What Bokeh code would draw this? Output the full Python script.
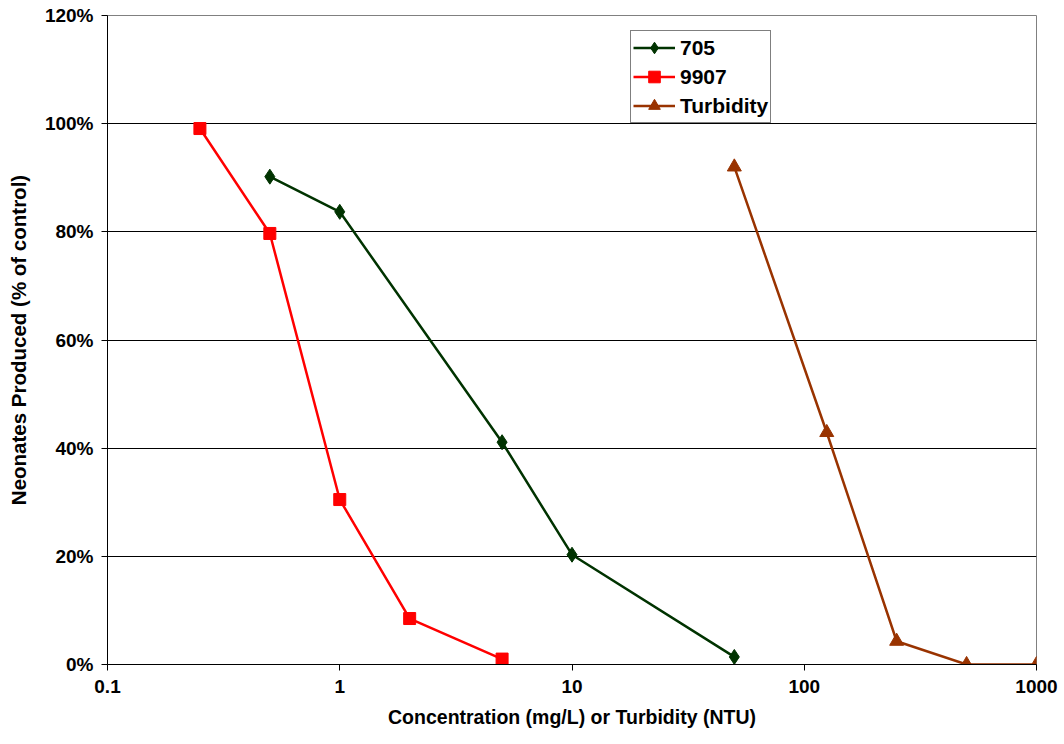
from bokeh.plotting import figure
from bokeh.models import FixedTicker, NumeralTickFormatter, CustomJSTickFormatter, Legend, LegendItem, Range1d
from bokeh.embed import file_html
from bokeh.resources import INLINE

x_705 = [0.5, 1, 5, 10, 50]
y_705 = [0.902, 0.837, 0.411, 0.203, 0.014]
x_9907 = [0.25, 0.5, 1, 2, 5]
y_9907 = [0.991, 0.797, 0.305, 0.085, 0.010]
x_turb = [50, 125, 250, 500, 1000]
y_turb = [0.920, 0.429, 0.043, 0.0, 0.0]

x_ticks = [0.1, 1, 10, 100, 1000]
y_ticks = [0, 0.2, 0.4, 0.6, 0.8, 1.0, 1.2]

FONT = "Liberation Sans"

p = figure(width=1064, height=744, x_axis_type="log", output_backend="svg",
           toolbar_location=None, x_range=Range1d(0.1, 1000), y_range=Range1d(0, 1.2),
           min_border_left=107, min_border_right=28, min_border_top=15, min_border_bottom=80)

p.outline_line_color = "#808080"
p.outline_line_width = 1

p.xaxis.ticker = FixedTicker(ticks=x_ticks)
p.xaxis.formatter = CustomJSTickFormatter(code="return tick.toString();")
p.yaxis.ticker = FixedTicker(ticks=y_ticks)
p.yaxis.formatter = NumeralTickFormatter(format="0%")

for ax in (p.xaxis, p.yaxis):
    ax.minor_tick_line_color = None
    ax.major_tick_out = 6
    ax.major_tick_in = 0
    ax.axis_line_color = "black"
    ax.major_tick_line_color = "black"
    ax.major_label_text_font = FONT
    ax.major_label_text_font_style = "bold"
    ax.major_label_text_font_size = "19px"
    ax.major_label_text_color = "black"
    ax.axis_label_text_font = FONT
    ax.axis_label_text_font_style = "bold"
    ax.axis_label_text_color = "black"

p.xaxis.axis_label_text_font_size = "19.5px"
p.yaxis.axis_label_text_font_size = "20.5px"
p.xaxis.axis_label = "Concentration (mg/L) or Turbidity (NTU)"
p.yaxis.axis_label = "Neonates Produced (% of control)"
p.xaxis.major_label_standoff = 9
p.xaxis.axis_label_standoff = 10
p.yaxis.major_label_standoff = 8
p.yaxis.axis_label_standoff = 12

p.xgrid.grid_line_color = None
p.ygrid.grid_line_color = "black"
p.ygrid.grid_line_width = 1

c705 = "#003300"
c9907 = "#ff0000"
cturb = "#993300"

l1 = p.line(x_705, y_705, line_color=c705, line_width=2.5)
s1 = p.scatter(x_705, y_705, marker="diamond", size=15, fill_color=c705, line_color=c705)
l2 = p.line(x_9907, y_9907, line_color=c9907, line_width=2.5)
s2 = p.scatter(x_9907, y_9907, marker="square", size=12, fill_color=c9907, line_color=c9907)
l3 = p.line(x_turb, y_turb, line_color=cturb, line_width=2.5)
s3 = p.scatter(x_turb, y_turb, marker="triangle", size=14, fill_color=cturb, line_color=cturb)

legend = Legend(items=[
    LegendItem(label="705", renderers=[l1, s1]),
    LegendItem(label="9907", renderers=[l2, s2]),
    LegendItem(label="Turbidity", renderers=[l3, s3]),
], location=(523, 541))
legend.label_text_font = FONT
legend.label_text_font_style = "bold"
legend.label_text_font_size = "21px"
legend.label_text_color = "black"
legend.border_line_color = "black"
legend.border_line_width = 1
legend.background_fill_alpha = 1
legend.glyph_width = 42
legend.glyph_height = 29
legend.label_height = 29
legend.spacing = 0
legend.padding = 2
legend.margin = 0
legend.label_standoff = 5
p.add_layout(legend)

open("out.html", "w").write(file_html(p, INLINE))
